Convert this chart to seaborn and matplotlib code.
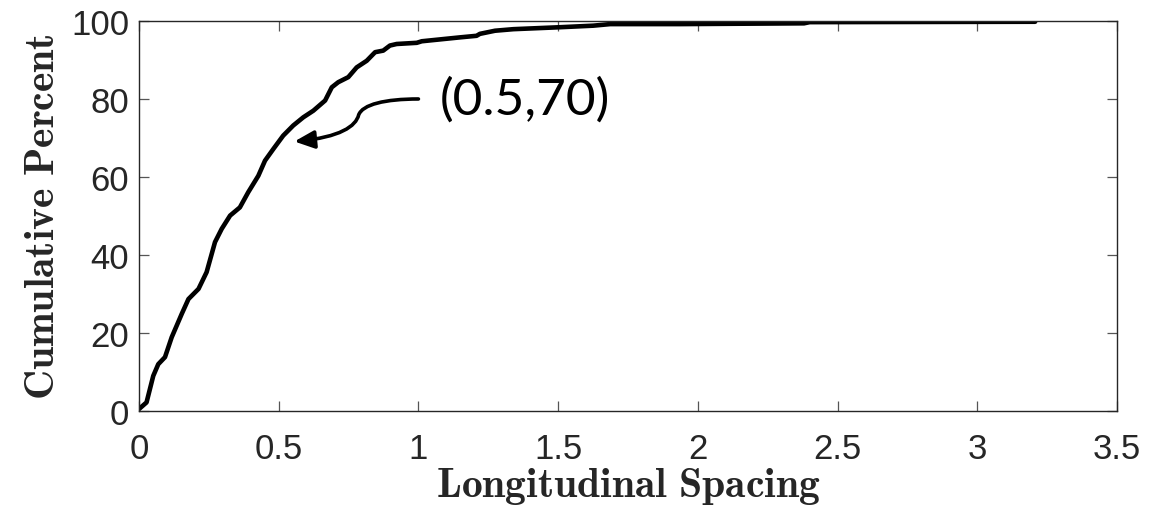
import matplotlib
matplotlib.use("Agg")
import matplotlib.pyplot as plt
from matplotlib.path import Path
from matplotlib.patches import FancyArrowPatch
import numpy as np
import pandas as pd
import seaborn as sns

# Cumulative distribution of longitudinal spacing
spacing = [0.0, 0.027, 0.051, 0.069, 0.093, 0.117, 0.153, 0.177, 0.213, 0.242,
           0.272, 0.296, 0.326, 0.361, 0.391, 0.427, 0.451, 0.481, 0.516, 0.552,
           0.588, 0.624, 0.666, 0.690, 0.713, 0.749, 0.779, 0.815, 0.845, 0.874,
           0.898, 0.922, 0.994, 1.012, 1.149, 1.208, 1.220, 1.274, 1.340, 1.507,
           1.626, 1.686, 1.936, 2.380, 2.400, 3.207]
cum_percent = [0.5, 2.2, 9.0, 12.0, 13.8, 18.9, 24.9, 28.7, 31.3, 35.6,
               43.3, 46.7, 50.1, 52.2, 56.1, 60.3, 64.2, 67.2, 70.6, 73.2,
               75.3, 77.0, 79.6, 83.0, 84.3, 85.6, 88.1, 89.8, 92.0, 92.4,
               93.7, 94.1, 94.4, 94.8, 95.8, 96.2, 96.7, 97.5, 97.9, 98.4,
               98.8, 99.2, 99.2, 99.4, 99.7, 99.8]

x_ticks = [0, 0.5, 1, 1.5, 2, 2.5, 3, 3.5]
x_tick_labels = ["0", "0.5", "1", "1.5", "2", "2.5", "3", "3.5"]
y_ticks = [0, 20, 40, 60, 80, 100]
y_tick_labels = ["0", "20", "40", "60", "80", "100"]

note_text = "(0.5,70)"
note_point = (0.5, 70)

sns.set_theme(style="white")
plt.rcParams["mathtext.fontset"] = "cm"
plt.rcParams["font.family"] = ["Liberation Sans", "DejaVu Sans"]

fig = plt.figure(figsize=(11.71, 5.10), dpi=100)
ax = fig.add_axes([0.1187, 0.1922, 0.8352, 0.7647])

df = pd.DataFrame({"spacing": spacing, "cum": cum_percent})
sns.lineplot(data=df, x="spacing", y="cum", ax=ax, color="black",
             linewidth=3.3, sort=False, solid_joinstyle="round")

ax.set_xlim(0, 3.5)
ax.set_ylim(0, 100)
ax.set_xticks(x_ticks)
ax.set_xticklabels(x_tick_labels)
ax.set_yticks(y_ticks)
ax.set_yticklabels(y_tick_labels)

dark = "#262626"
for s in ax.spines.values():
    s.set_visible(True)
    s.set_color(dark)
    s.set_linewidth(1.0)

ax.tick_params(axis="both", which="major", direction="in", length=7.5,
               width=0.9, color="#555555", labelsize=25, labelcolor=dark,
               top=True, right=True, bottom=True, left=True)
ax.tick_params(axis="x", pad=15)
ax.tick_params(axis="y", pad=7)

ax.set_xlabel(r"$\mathbf{Longitudinal\ Spacing}$", fontsize=30, color=dark,
              labelpad=0)
ax.set_ylabel(r"$\mathbf{Cumulative\ Percent}$", fontsize=30, color=dark,
              labelpad=6)

# Curved call-out arrow pointing at the marked point
verts = [(1.0, 80.0), (0.88, 80.0), (0.80, 78.6), (0.786, 75.9),
         (0.776, 73.0), (0.72, 70.2), (0.556, 69.1)]
codes = [Path.MOVETO, Path.CURVE4, Path.CURVE4, Path.CURVE4,
         Path.CURVE4, Path.CURVE4, Path.CURVE4]
arrow = FancyArrowPatch(path=Path(verts, codes),
                        arrowstyle="-|>,head_length=0.6,head_width=0.27",
                        mutation_scale=20, linewidth=2.6, color="black",
                        transform=ax.transData)
ax.add_patch(arrow)

ax.text(1.075, 80.0, note_text, fontsize=37, color="black",
        family=["Lato", "DejaVu Sans"], ha="left", va="center")

fig.savefig("out.png", dpi=100)
